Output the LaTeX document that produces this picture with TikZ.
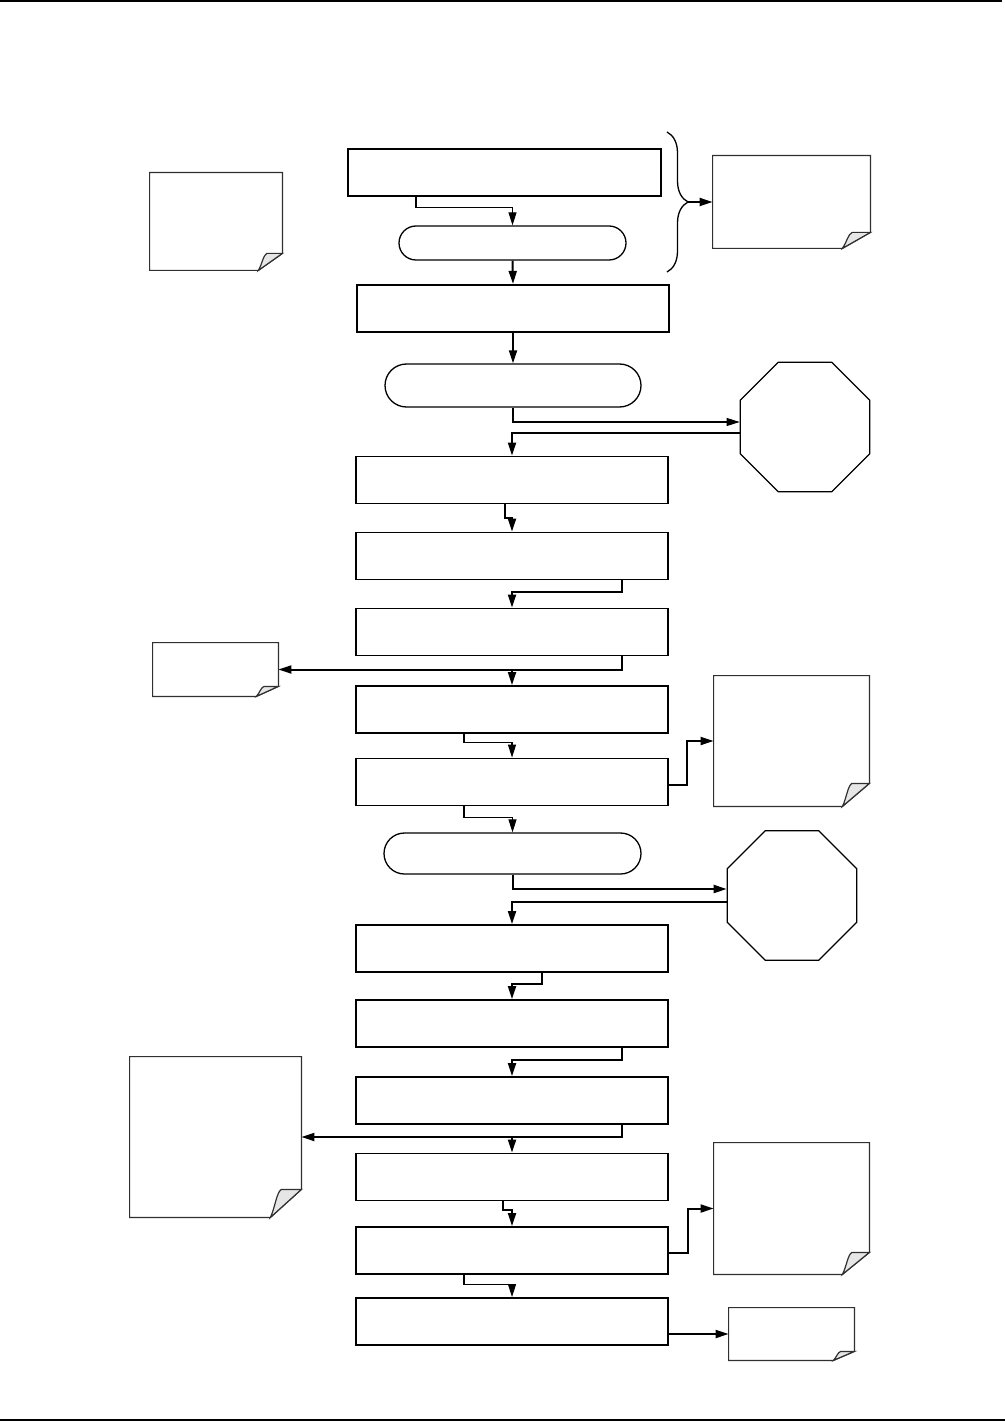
\documentclass[tikz,border=0pt]{standalone}
\usepackage{tikz}
\usetikzlibrary{arrows.meta,positioning,shapes.misc,shapes.geometric,decorations.pathreplacing}
\definecolor{ink}{HTML}{000000}
\definecolor{edge}{HTML}{303030}
\definecolor{fold}{HTML}{E6E6E6}

% page outline with a curled corner: node, fold width, fold height
\newcommand{\curlnote}[3]{%
  \draw[notefr] (#1.north west) -- (#1.north east) -- ([yshift=#3]#1.south east)
    -- ([xshift=-#2]#1.south east) -- (#1.south west) -- cycle;
  \draw[notefr,fill=fold] ([xshift=-#2]#1.south east)
    .. controls ([xshift=-0.85*#2,yshift=0.35*#3]#1.south east) and ([xshift=-0.8*#2,yshift=0.9*#3]#1.south east) .. ([xshift=-0.65*#2,yshift=#3]#1.south east)
    -- ([yshift=#3]#1.south east) -- cycle;
}

\begin{document}
\begin{tikzpicture}[
  x=0.5pt,y=-0.5pt,
  stepbox/.style={draw=ink,line width=0.9pt,minimum width=156pt,minimum height=23.5pt,inner sep=0pt},
  pill/.style={draw=ink,rounded rectangle,line width=0.65pt,inner sep=0pt},
  octo/.style={draw=ink,regular polygon,regular polygon sides=8,minimum size=70pt,inner sep=0pt,line width=0.65pt},
  note/.style={inner sep=0pt},
  notefr/.style={draw=edge,line width=0.6pt,line join=miter},
  arr/.style={-{Triangle[length=6.5pt,width=4pt]},line width=1pt,color=ink},
  arrthin/.style={-{Triangle[length=6.5pt,width=4pt]},line width=0.55pt,color=ink}
]
\useasboundingbox (0,0) rectangle (1005,1422);
\draw[line width=1pt] (0,1) -- (1002,1);
\draw[line width=1.2pt] (0,1420) -- (1005,1420);

% main column
\node[stepbox,line width=1.1pt,minimum width=156.5pt] (A) at (504.5,172.5) {};
\node[pill,minimum width=113.5pt,minimum height=17pt] (B) at (512.5,243) {};
\node[stepbox,line width=1.1pt] (C) at (513,308.5) {};
\node[pill,minimum width=128pt,minimum height=21.5pt] (D) at (513,385.5) {};
\node[stepbox] (E) at (512,480) {};
\node[stepbox] (F) at (512,556) {};
\node[stepbox] (G) at (512,632) {};
\node[stepbox] (H) at (512,709.5) {};
\node[stepbox] (I) at (512,782) {};
\node[pill,minimum width=128.5pt,minimum height=20.5pt] (J) at (512.5,853.5) {};
\node[stepbox] (K) at (512,948.5) {};
\node[stepbox] (L) at (512,1023.5) {};
\node[stepbox] (M) at (512,1100.5) {};
\node[stepbox] (N) at (512,1177) {};
\node[stepbox] (O) at (512,1250.5) {};
\node[stepbox] (P) at (512,1321.5) {};

% stop signs
\node[octo] (oct1) at (805,427) {};
\node[octo] (oct2) at (792,895.5) {};

% side notes
\node[note,minimum width=66pt,minimum height=48.5pt] (note0) at (216,221.5) {};
\node[note,minimum width=78.5pt,minimum height=46pt] (note1) at (791.5,202) {};
\node[note,minimum width=62.5pt,minimum height=26.5pt] (note2) at (215.5,669.5) {};
\node[note,minimum width=77.5pt,minimum height=65pt] (note3) at (791.5,741) {};
\node[note,minimum width=85.5pt,minimum height=80pt] (note4) at (215.5,1137) {};
\node[note,minimum width=77.5pt,minimum height=65.5pt] (note5) at (791.5,1208.5) {};
\node[note,minimum width=62.5pt,minimum height=26pt] (note6) at (791.5,1334) {};
\curlnote{note0}{12pt}{8.5pt}
\curlnote{note1}{14pt}{8pt}
\curlnote{note2}{11pt}{5pt}
\curlnote{note3}{13.5pt}{11.5pt}
\curlnote{note4}{15.5pt}{14pt}
\curlnote{note5}{13.5pt}{11pt}
\curlnote{note6}{10.5pt}{4.5pt}

% brace over the first two steps
\draw[line width=0.65pt,decorate,decoration={brace,amplitude=10.5pt}] (667,132) -- (667,272);
\coordinate (bracetip) at (688,202);
\draw[arr] (bracetip) -- (note1.west);

% connectors
\draw[arrthin] (A.south -| 416,0) -- ++(0,10) -| (B.north);
\draw[arr] (B.south) -- (C.north);
\draw[arr] (C.south) -- (D.north);
\draw[arrthin] (D.south) |- ([yshift=2.5pt]oct1.west);
\draw[arr] ([yshift=-3pt]oct1.west) -| (E.north);
\draw[arr] (E.south -| 505,0) -- ++(0,14) -| (F.north);
\draw[arr] (F.south -| 622,0) -- ++(0,12) -| (G.north);
\draw[arr] (G.south -| 622,0) |- (note2.east);
\draw[arr] (H.north |- note2.east) -- (H.north);
\draw[arrthin] (H.south -| 464,0) -- ++(0,9) -| (I.north);
\draw[arr] ([yshift=-1.5pt]I.east) -- ++(18,0) |- (note3.west);
\draw[arrthin] (I.south -| 464,0) -- ++(0,11) -| (J.north);
\draw[arr] (J.south) |- ([yshift=3.25pt]oct2.west);
\draw[arr] ([yshift=-3.25pt]oct2.west) -| (K.north);
\draw[arr] (K.south -| 542,0) -- ++(0,11) -| (L.north);
\draw[arr] (L.south -| 622,0) -- ++(0,12) -| (M.north);
\draw[arr] (M.south -| 622,0) |- (note4.east);
\draw[arr] (N.north |- note4.east) -- (N.north);
\draw[arr] (N.south -| 503,0) -- ++(0,9) -| (O.north);
\draw[arr] ([yshift=-1.25pt]O.east) -- ++(19,0) |- (note5.west);
\draw[arrthin] (O.south -| 464,0) -- ++(0,10) -| (P.north);
\draw[arr] (P.east |- note6.west) -- (note6.west);
\end{tikzpicture}
\end{document}
